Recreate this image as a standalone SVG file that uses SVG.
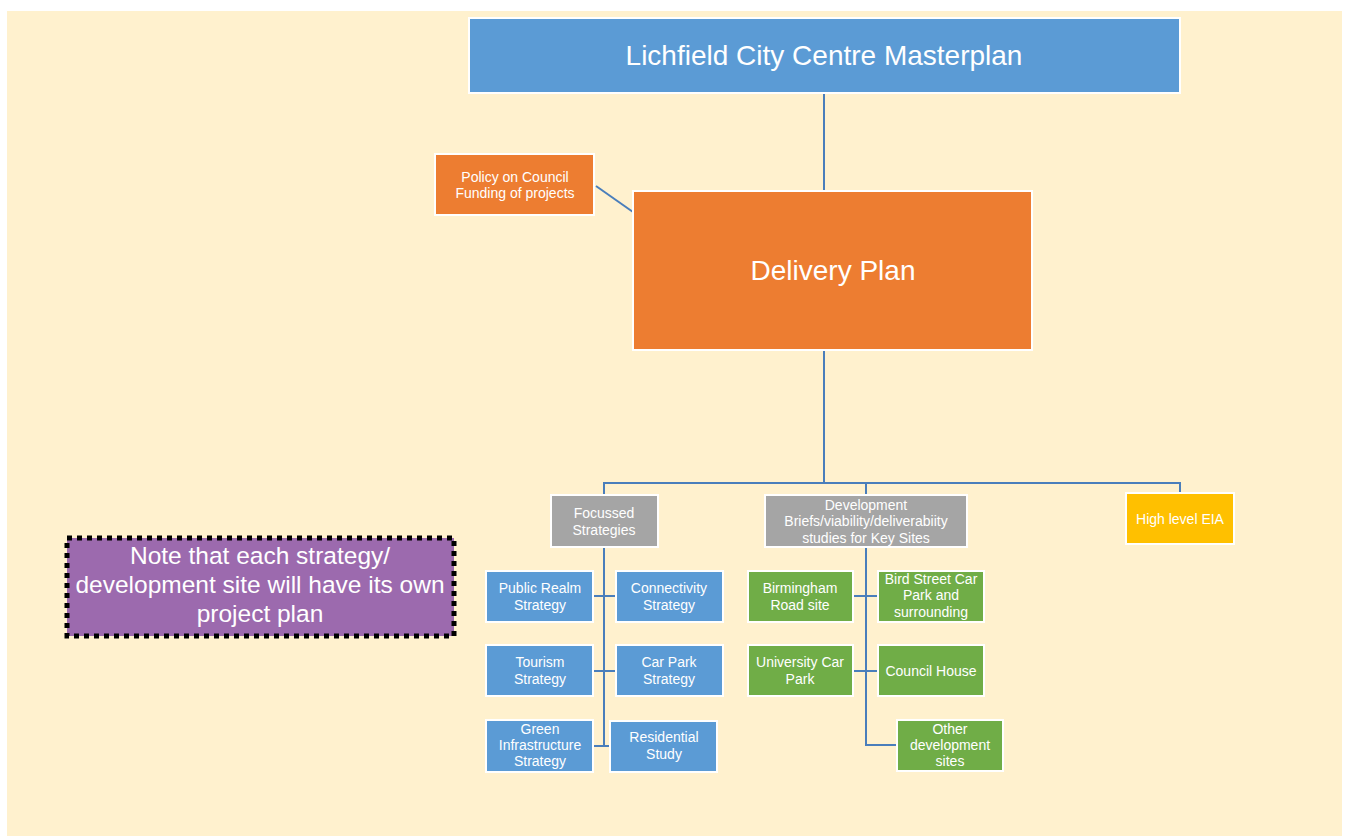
<svg xmlns="http://www.w3.org/2000/svg" width="1349" height="836" viewBox="0 0 1349 836">
<style>
.box{stroke:#fff;stroke-width:2}
.blue{fill:#5B9BD5}
.orange{fill:#ED7D31}
.grey{fill:#A5A5A5}
.green{fill:#70AD47}
.gold{fill:#FFC000}
text{font-family:"Liberation Sans",Arial,sans-serif;fill:#fff;text-anchor:middle}
.s{font-size:14px}
.l{font-size:28px}
.n{font-size:24.5px}
.conn{fill:none;stroke:#4A7EBB;stroke-width:2}
</style>
<rect x="0" y="0" width="1349" height="836" fill="#fff"/>
<rect x="7" y="11" width="1335" height="825" fill="#FFF1CE"/>
<g id="connectors">
<line class="conn" x1="824" y1="93" x2="824" y2="191"/>
<line class="conn" x1="596" y1="186" x2="633" y2="212"/>
<path class="conn" d="M824 350 V483 H604 V495"/>
<path class="conn" d="M824 483 H866 V495"/>
<path class="conn" d="M866 483 H1180 V494"/>
<path class="conn" d="M604 547 V746 H594"/>
<path class="conn" d="M604 746 H610"/>
<path class="conn" d="M594 596 H616 M594 671 H616"/>
<path class="conn" d="M866 547 V745 H897"/>
<path class="conn" d="M853 596 H878 M853 671 H878"/>
</g>
<g id="masterplan"><rect class="box blue" x="469" y="18" width="711" height="75"/><text class="l" x="824" y="65">Lichfield City Centre Masterplan</text></g>
<g id="policy"><rect class="box orange" x="435" y="154" width="159" height="61"/><text class="s" x="515" y="182">Policy on Council</text><text class="s" x="515" y="198">Funding of projects</text></g>
<g id="delivery"><rect class="box orange" x="633" y="191" width="399" height="159"/><text class="l" x="833" y="280">Delivery Plan</text></g>
<g id="focussed"><rect class="box grey" x="551" y="495" width="107" height="52"/><text class="s" x="604" y="518">Focussed</text><text class="s" x="604" y="535">Strategies</text></g>
<g id="development"><rect class="box grey" x="765" y="495" width="202" height="52"/><text class="s" x="866" y="510">Development</text><text class="s" x="866" y="526">Briefs/viability/deliverabiity</text><text class="s" x="866" y="543">studies for Key Sites</text></g>
<g id="eia"><rect class="box gold" x="1126" y="493" width="108" height="51"/><text class="s" x="1180" y="524">High level EIA</text></g>
<g id="public-realm"><rect class="box blue" x="486" y="571" width="107" height="51"/><text class="s" x="540" y="593">Public Realm</text><text class="s" x="540" y="610">Strategy</text></g>
<g id="connectivity"><rect class="box blue" x="616" y="571" width="107" height="51"/><text class="s" x="669" y="593">Connectivity</text><text class="s" x="669" y="610">Strategy</text></g>
<g id="tourism"><rect class="box blue" x="486" y="645" width="107" height="51"/><text class="s" x="540" y="667">Tourism</text><text class="s" x="540" y="684">Strategy</text></g>
<g id="car-park"><rect class="box blue" x="616" y="645" width="107" height="51"/><text class="s" x="669" y="667">Car Park</text><text class="s" x="669" y="684">Strategy</text></g>
<g id="green-infra"><rect class="box blue" x="486" y="720" width="107" height="52"/><text class="s" x="540" y="734">Green</text><text class="s" x="540" y="750">Infrastructure</text><text class="s" x="540" y="766">Strategy</text></g>
<g id="residential"><rect class="box blue" x="610" y="721" width="107" height="51"/><text class="s" x="664" y="742">Residential</text><text class="s" x="664" y="759">Study</text></g>
<g id="birmingham"><rect class="box green" x="748" y="571" width="105" height="51"/><text class="s" x="800" y="593">Birmingham</text><text class="s" x="800" y="610">Road site</text></g>
<g id="bird-street"><rect class="box green" x="878" y="571" width="106" height="51"/><text class="s" x="931" y="584">Bird Street Car</text><text class="s" x="931" y="600">Park and</text><text class="s" x="931" y="617">surrounding</text></g>
<g id="university"><rect class="box green" x="748" y="645" width="105" height="51"/><text class="s" x="800" y="667">University Car</text><text class="s" x="800" y="684">Park</text></g>
<g id="council-house"><rect class="box green" x="878" y="645" width="106" height="51"/><text class="s" x="931" y="676">Council House</text></g>
<g id="other-sites"><rect class="box green" x="897" y="720" width="106" height="51"/><text class="s" x="950" y="734">Other</text><text class="s" x="950" y="750">development</text><text class="s" x="950" y="766">sites</text></g>
<g id="note"><rect x="67" y="538" width="387" height="98" fill="#9C6AAE" stroke="#000" stroke-width="5" stroke-dasharray="5 5"/><text class="n" x="260" y="564">Note that each strategy/</text><text class="n" x="260" y="593">development  site will have its own</text><text class="n" x="260" y="622">project plan</text></g>
</svg>
